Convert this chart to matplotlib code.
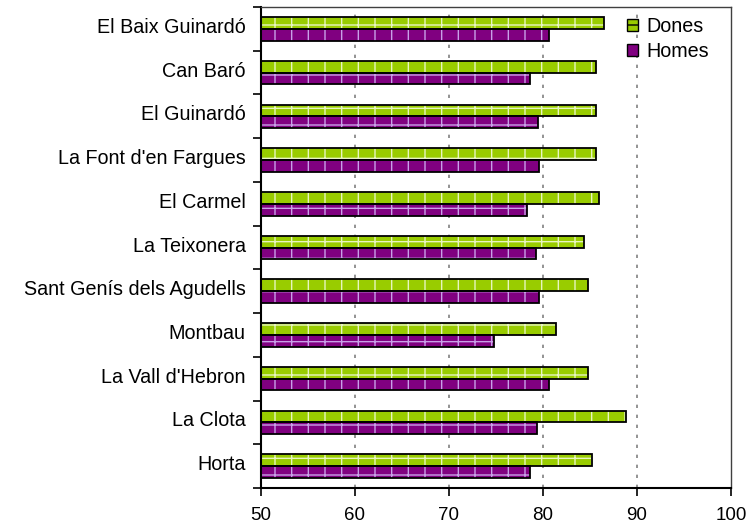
import matplotlib
matplotlib.use("Agg")
import matplotlib.pyplot as plt
import matplotlib.transforms as mtransforms
import numpy as np
from matplotlib.patches import Patch

plt.rcParams['font.family'] = ['Liberation Sans', 'DejaVu Sans']

categories = ["El Baix Guinardó", "Can Baró", "El Guinardó", "La Font d'en Fargues",
              "El Carmel", "La Teixonera", "Sant Genís dels Agudells", "Montbau",
              "La Vall d'Hebron", "La Clota", "Horta"]
dones = [86.5, 85.7, 85.7, 85.7, 86.0, 84.4, 84.8, 81.4, 84.8, 88.8, 85.2]
homes = [80.7, 78.6, 79.5, 79.6, 78.3, 79.3, 79.6, 74.8, 80.6, 79.4, 78.6]
xticks = [50, 60, 70, 80, 90, 100]

fig = plt.figure(figsize=(7.55, 5.28), dpi=100)
ax = fig.add_axes([0.3457, 0.0758, 0.968 - 0.3457, 0.9867 - 0.0758])

y = np.arange(len(categories))
h = 0.27
green = '#99CC00'
purple = '#800080'

plt.rcParams['hatch.linewidth'] = 1.0
ax.barh(y - h / 2, np.array(dones) - 50, left=50, height=h, color=green,
        edgecolor='#E8F5C0', hatch='+', linewidth=0, zorder=2)
ax.barh(y + h / 2, np.array(homes) - 50, left=50, height=h, color=purple,
        edgecolor='#C8A0E8', hatch='+', linewidth=0, zorder=2)
ax.barh(y - h / 2, np.array(dones) - 50, left=50, height=h, fill=False,
        edgecolor='black', linewidth=1.3, zorder=3)
ax.barh(y + h / 2, np.array(homes) - 50, left=50, height=h, fill=False,
        edgecolor='black', linewidth=1.3, zorder=3)

ax.set_xlim(50, 100)
ax.set_ylim(len(categories) - 0.5, -0.5)
ax.set_xticks(xticks)
ax.set_xticklabels([str(v) for v in xticks], fontsize=13.5)
ax.set_yticks(y)
ax.set_yticklabels(categories, fontsize=14.2)
ax.tick_params(axis='y', length=0, pad=11)
ax.set_yticks(np.arange(-0.5, len(categories), 1.0), minor=True)
ax.tick_params(axis='y', which='minor', length=6, width=1.2, direction='out')
ax.tick_params(axis='x', length=6, width=1.2, direction='out', pad=8)

offset = mtransforms.ScaledTranslation(0, 2.5 / 72, fig.dpi_scale_trans)
for lab in ax.get_yticklabels():
    lab.set_transform(lab.get_transform() + offset)

for xv in xticks[1:-1]:
    ax.axvline(xv, color='#808080', linestyle=(0, (2, 4)), linewidth=1.2, zorder=1)

for s in ['left', 'bottom']:
    ax.spines[s].set_linewidth(1.5)
    ax.spines[s].set_color('black')
for s in ['top', 'right']:
    ax.spines[s].set_linewidth(1.0)
    ax.spines[s].set_color('#404040')

handles = [Patch(facecolor=green, edgecolor='black', hatch='+', label='Dones'),
           Patch(facecolor=purple, edgecolor='black', hatch='+', label='Homes')]
ax.legend(handles=handles, loc='upper right', frameon=False, fontsize=14.2,
          handlelength=0.55, handleheight=0.55, handletextpad=0.45,
          borderaxespad=0.1, labelspacing=0.32, bbox_to_anchor=(0.975, 1.0))

fig.savefig('out.png', dpi=100)
